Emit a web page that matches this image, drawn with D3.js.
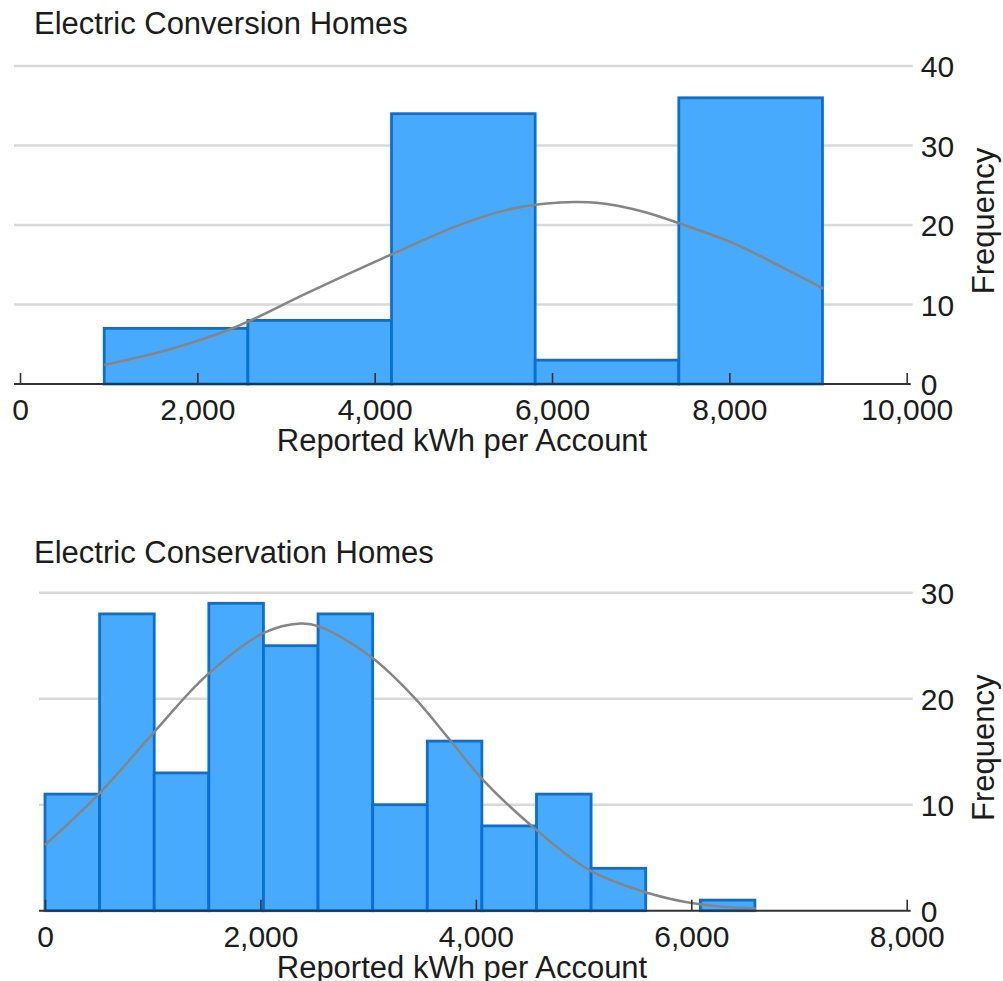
<!DOCTYPE html>
<html>
<head>
<meta charset="utf-8">
<script src="https://cdn.jsdelivr.net/npm/d3@7"></script>
<style>
  html, body { margin: 0; padding: 0; background: #ffffff; }
  svg { display: block; font-family: "Liberation Sans", Arial, sans-serif; }
</style>
</head>
<body>
<svg id="chart" width="1003" height="981"></svg>
<script>
// Electric Conversion Homes: histogram bins and counts
const conversionEdges = [950, 2570, 4190, 5810, 7430, 9050];
const conversionCounts = [7, 8, 34, 3, 36];
// Fitted normal curve, sampled points (kWh, frequency)
const conversionCurveX = [950, 1730, 2440, 3230, 4170, 4930, 5490, 5940, 6250, 6500, 6990, 7440, 8050, 8610, 9060];
const conversionCurveY = [2.4, 4.5, 7.2, 11.4, 16.2, 19.9, 21.9, 22.7, 22.9, 22.8, 21.8, 20.2, 17.7, 14.6, 12.0];
const conversionXTicks = [0, 2000, 4000, 6000, 8000, 10000];
const conversionYTicks = [0, 10, 20, 30, 40];

// Electric Conservation Homes: histogram bins and counts
const conservationEdges = [0, 507, 1014, 1521, 2028, 2535, 3042, 3549, 4056, 4563, 5070, 5577, 6084, 6591];
const conservationCounts = [11, 28, 13, 29, 25, 28, 10, 16, 8, 11, 4, 0, 1];
const conservationCurveX = [0, 480, 1000, 1500, 2030, 2370, 2550, 3020, 3420, 3760, 4070, 4530, 5060, 5590, 6080, 6600];
const conservationCurveY = [6.2, 10.8, 16.7, 22.2, 26.2, 27.1, 26.8, 24.0, 20.2, 16.1, 12.3, 7.9, 3.8, 1.7, 0.6, 0.2];
const conservationXTicks = [0, 2000, 4000, 6000, 8000];
const conservationYTicks = [0, 10, 20, 30];

const xTitle = "Reported kWh per Account";
const yTitle = "Frequency";

const svg = d3.select("#chart");
const fmt = d3.format(",");

function drawPanel(p) {
  const g = svg.append("g");
  const x = d3.scaleLinear().domain(p.xDomain).range([p.left, p.right]);
  const y = d3.scaleLinear().domain(p.yDomain).range([p.bottom, p.top]);

  // title
  g.append("text")
    .attr("x", 34).attr("y", p.titleY)
    .attr("font-size", 31).attr("fill", "#1c1c1c")
    .text(p.title);

  // horizontal gridlines
  g.append("g").selectAll("line")
    .data(p.yTicks.filter(d => d > 0))
    .join("line")
    .attr("x1", p.left - 6).attr("x2", p.right + 6)
    .attr("y1", d => y(d)).attr("y2", d => y(d))
    .attr("stroke", "#d9d9d9").attr("stroke-width", 2.4);

  // bars
  const bins = p.counts.map((c, i) => ({ x0: p.edges[i], x1: p.edges[i + 1], n: c }))
    .filter(b => b.n > 0);
  g.append("g").selectAll("rect")
    .data(bins)
    .join("rect")
    .attr("x", d => x(d.x0))
    .attr("y", d => y(d.n))
    .attr("width", d => x(d.x1) - x(d.x0))
    .attr("height", d => y(0) - y(d.n))
    .attr("fill", "#48aafd")
    .attr("stroke", "#0a6fd0")
    .attr("stroke-width", 2.8);

  // normal curve
  const pts = p.curveX.map((v, i) => [v, p.curveY[i]]);
  g.append("path")
    .datum(pts)
    .attr("fill", "none")
    .attr("stroke", "#858585")
    .attr("stroke-width", 2.5)
    .attr("d", d3.line().x(d => x(d[0])).y(d => y(d[1])).curve(d3.curveCatmullRom.alpha(0.5)));

  // x axis with upward ticks
  const xAxis = g.append("g")
    .attr("transform", `translate(0,${p.bottom})`)
    .call(d3.axisBottom(x).tickValues(p.xTicks).tickFormat(fmt).tickSizeInner(-11).tickSizeOuter(0));
  xAxis.select(".domain").remove();
  xAxis.selectAll(".tick line").attr("stroke", "#333").attr("stroke-width", 1.6);
  xAxis.selectAll(".tick text")
    .attr("y", 36).attr("dy", 0)
    .attr("font-size", 30).attr("fill", "#1c1c1c")
    .attr("font-family", "Liberation Sans, Arial, sans-serif");
  g.append("line")
    .attr("x1", p.left - 6).attr("x2", p.right + 4)
    .attr("y1", p.bottom).attr("y2", p.bottom)
    .attr("stroke", "#333").attr("stroke-width", 2);

  // y tick labels on the right
  const yAxis = g.append("g")
    .attr("transform", `translate(${p.right + 14},0)`)
    .call(d3.axisRight(y).tickValues(p.yTicks).tickSize(0).tickPadding(0));
  yAxis.select(".domain").remove();
  yAxis.selectAll(".tick text")
    .attr("x", 0).attr("dy", "0.36em")
    .attr("font-size", 30).attr("fill", "#1c1c1c")
    .attr("font-family", "Liberation Sans, Arial, sans-serif");

  // axis titles
  g.append("text")
    .attr("x", 462).attr("y", p.bottom + 67)
    .attr("text-anchor", "middle")
    .attr("font-size", 31).attr("fill", "#1c1c1c")
    .text(xTitle);
  g.append("text")
    .attr("transform", `translate(994,${(p.top + p.bottom) / 2 - 4}) rotate(-90)`)
    .attr("text-anchor", "middle")
    .attr("font-size", 31).attr("fill", "#1c1c1c")
    .text(yTitle);
}

drawPanel({
  title: "Electric Conversion Homes", titleY: 34,
  xDomain: [0, 10000], yDomain: [0, 40],
  left: 20, right: 906.7, top: 66, bottom: 384,
  edges: conversionEdges, counts: conversionCounts,
  curveX: conversionCurveX, curveY: conversionCurveY,
  xTicks: conversionXTicks, yTicks: conversionYTicks
});

drawPanel({
  title: "Electric Conservation Homes", titleY: 563,
  xDomain: [0, 8000], yDomain: [0, 30],
  left: 45, right: 906.7, top: 592.7, bottom: 910.7,
  edges: conservationEdges, counts: conservationCounts,
  curveX: conservationCurveX, curveY: conservationCurveY,
  xTicks: conservationXTicks, yTicks: conservationYTicks
});
</script>
</body>
</html>
